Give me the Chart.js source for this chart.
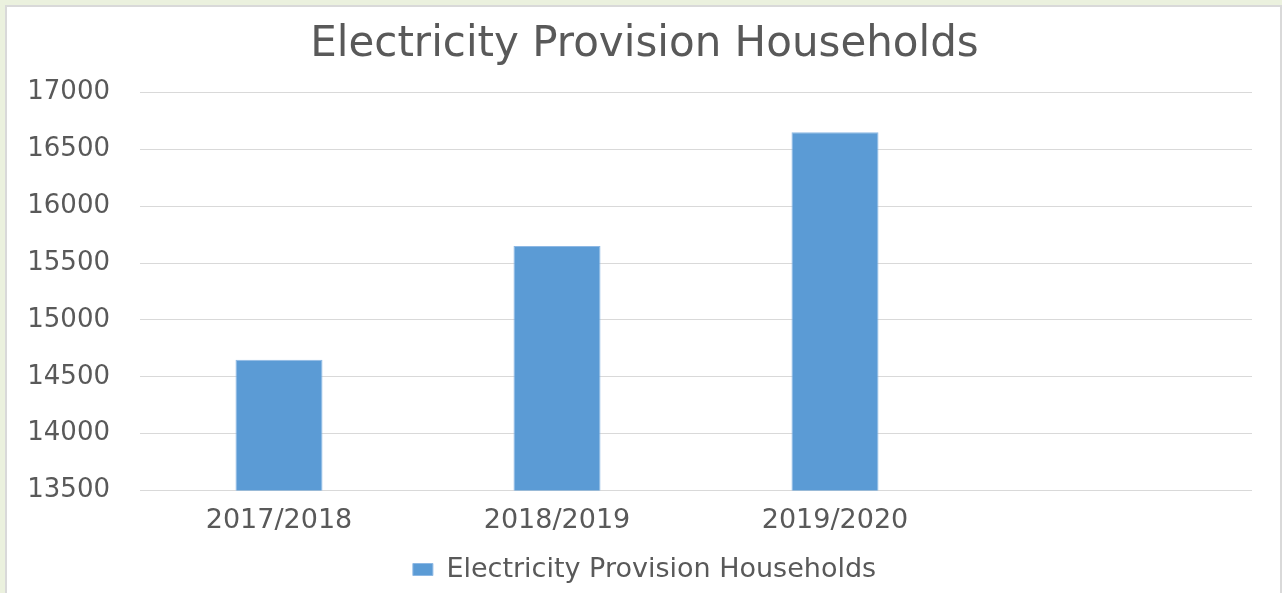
<!DOCTYPE html>
<html>
<head>
<meta charset="utf-8">
<script src="https://cdn.jsdelivr.net/npm/chart.js@4.4.1/dist/chart.umd.min.js"></script>
<style>
html,body{margin:0;padding:0;background:#EBF1DE;}
#wrap{position:absolute;left:0;top:0;width:1282px;height:593px;}
</style>
</head>
<body>
<div id="wrap"><canvas id="c" width="1282" height="593"></canvas></div>
<script>
const categories = ['2017/2018', '2018/2019', '2019/2020', ''];
const households = [14650, 15650, 16650, null];
const seriesName = 'Electricity Provision Households';
const chartTitle = 'Electricity Provision Households';
const yMin = 13500, yMax = 17000, yStep = 500;

const FONT = "'DejaVu Sans', sans-serif";
const TXT = '#595959';

const panelBg = {
  id: 'panelBg',
  beforeDraw(chart) {
    const ctx = chart.ctx;
    ctx.save();
    ctx.fillStyle = '#EBF1DE';
    ctx.fillRect(0, 0, chart.width, chart.height);
    ctx.fillStyle = '#D9D9D9';
    ctx.fillRect(5, 5, chart.width - 5, chart.height - 5);
    ctx.fillStyle = '#FFFFFF';
    ctx.fillRect(7, 7, chart.width - 9, chart.height - 7);
    ctx.restore();
  }
};

new Chart(document.getElementById('c'), {
  type: 'bar',
  data: {
    labels: categories,
    datasets: [{
      label: seriesName,
      data: households,
      yAxisID: 'y',
      backgroundColor: '#5B9BD5',
      borderColor: '#8DB8E4',
      borderWidth: 1,
      barPercentage: 0.313,
      categoryPercentage: 1.0
    }]
  },
  options: {
    responsive: false,
    animation: false,
    devicePixelRatio: 1,
    layout: { padding: { left: 7, right: 0, top: 20, bottom: 0 } },
    plugins: {
      title: {
        display: true,
        text: chartTitle,
        color: TXT,
        font: { family: FONT, size: 42, weight: 'normal' },
        padding: { top: 0, bottom: 22 }
      },
      legend: {
        position: 'bottom',
        labels: {
          color: TXT,
          font: { family: FONT, size: 27 },
          boxWidth: 20,
          boxHeight: 12,
          padding: 5
        }
      },
      tooltip: { enabled: false }
    },
    scales: {
      x: {
        grid: { display: false, drawTicks: false },
        border: { display: false },
        ticks: { color: TXT, font: { family: FONT, size: 27 }, padding: 14, maxRotation: 0 }
      },
      y: {
        position: 'left',
        min: yMin,
        max: yMax,
        afterFit(scale) { scale.width = 133; },
        grid: { color: '#D9D9D9', lineWidth: 1, drawTicks: false },
        border: { display: false },
        ticks: {
          stepSize: yStep, color: TXT, font: { family: FONT, size: 26 }, padding: 30,
          callback: (v) => String(v)
        }
      },
      yRightSpace: {
        position: 'right',
        min: yMin,
        max: yMax,
        afterFit(scale) { scale.width = 30; },
        grid: { display: false, drawTicks: false },
        border: { display: false },
        ticks: { display: false }
      }
    }
  },
  plugins: [panelBg]
});
</script>
</body>
</html>
